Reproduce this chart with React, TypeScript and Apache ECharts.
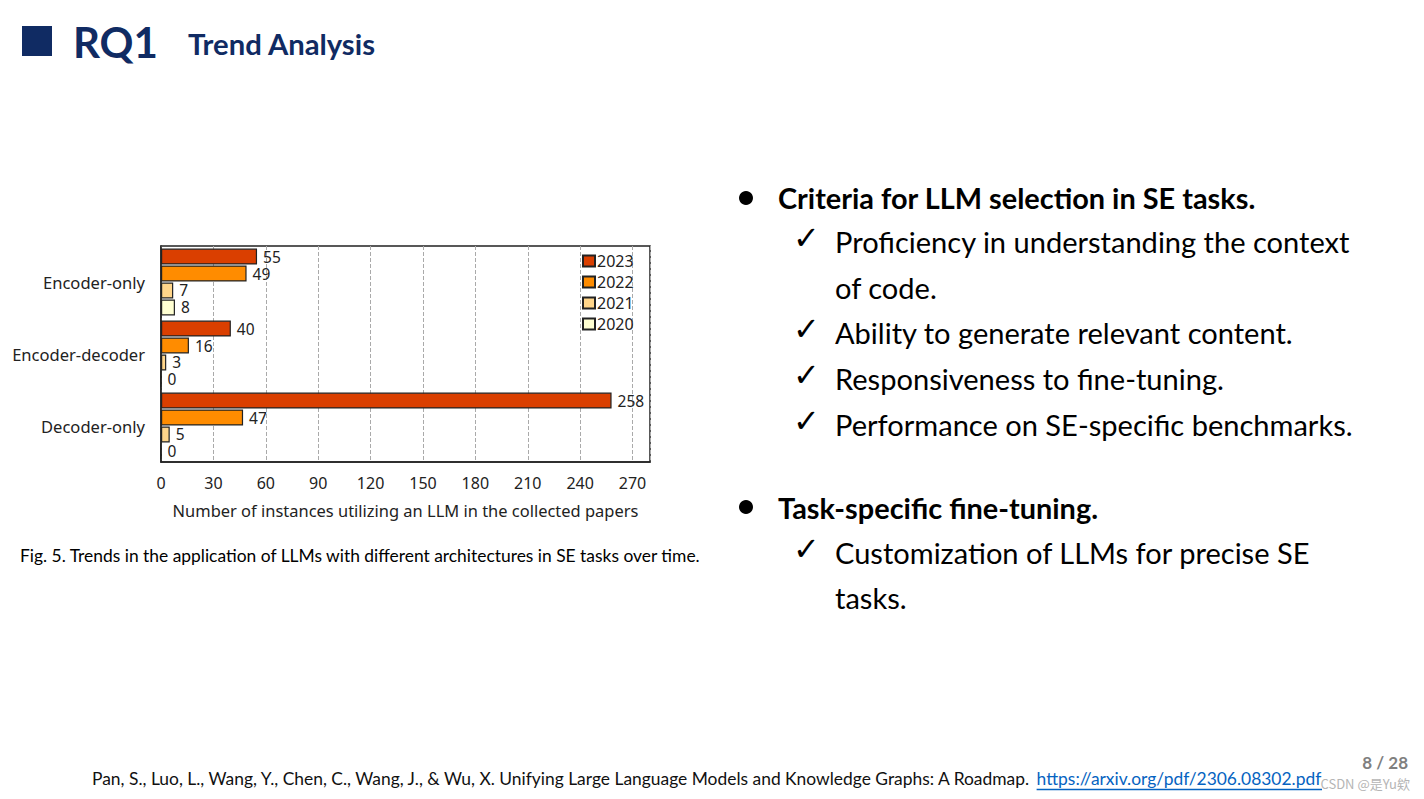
import React, { useEffect, useRef } from 'react';
import * as echarts from 'echarts';

// ---- data ----
const categories = ['Encoder-only', 'Encoder-decoder', 'Decoder-only'];
const years = ['2023', '2022', '2021', '2020'];
const values2023 = [55, 40, 258];
const values2022 = [49, 16, 47];
const values2021 = [7, 3, 5];
const values2020 = [8, 0, 0];
const seriesValues = [values2023, values2022, values2021, values2020];
const yearColors = ['#DA3F00', '#FF8C00', '#FFD58A', '#FFFFD2'];
const xTickStep = 30;
const xMax = 280;

const slideTitle = 'RQ1';
const slideSubtitle = 'Trend Analysis';
const figCaption = 'Fig. 5. Trends in the application of LLMs with different architectures in SE tasks over time.';
const xAxisName = 'Number of instances utilizing an LLM in the collected papers';
const bullet1 = 'Criteria for LLM selection in SE tasks.';
const bullet1Lines = [
  { text: 'Proficiency in understanding the context', check: true },
  { text: 'of code.', check: false },
  { text: 'Ability to generate relevant content.', check: true },
  { text: 'Responsiveness to fine-tuning.', check: true },
  { text: 'Performance on SE-specific benchmarks.', check: true },
];
const bullet2 = 'Task-specific fine-tuning.';
const bullet2Lines = [
  { text: 'Customization of LLMs for precise SE', check: true },
  { text: 'tasks.', check: false },
];
const citePrefix = 'Pan, S., Luo, L., Wang, Y., Chen, C., Wang, J., & Wu, X. Unifying Large Language Models and Knowledge Graphs: A Roadmap. ';
const citeLink = 'https://arxiv.org/pdf/2306.08302.pdf';
const pageNo = '8 / 28';
const watermark = 'CSDN @是Yu欸';

const SLIDE_FONT = 'Lato';
const CHART_FONT = 'Noto Sans';

function measure(text: string, family: string, weight: string, size: number): number {
  const c = document.createElement('canvas').getContext('2d');
  if (!c) return text.length * size * 0.5;
  c.font = `${weight} ${size}px "${family}"`;
  return c.measureText(text).width;
}
function fit(text: string, family: string, weight: string, target: number, fallback: number): number {
  const w = measure(text, family, weight, 100);
  return w > 0 ? (100 * target) / w : fallback;
}

export default function App() {
  const ref = useRef<HTMLDivElement>(null);
  useEffect(() => {
    if (!ref.current) return;
    const chart = echarts.init(ref.current, undefined, { renderer: 'svg' });

    const titleSize = fit(slideTitle, SLIDE_FONT, 'bold', 85, 42);
    const subSize = fit(slideSubtitle, SLIDE_FONT, 'bold', 188, 28);
    const capSize = fit(figCaption, SLIDE_FONT, 'normal', 682, 15);
    const boldSize = fit(bullet1, SLIDE_FONT, 'bold', 478, 27);
    const bodySize = fit('Performance on SE-specific benchmarks.', SLIDE_FONT, 'normal', 518, 27);
    const citeSize = fit(citePrefix + citeLink, SLIDE_FONT, 'normal', 1230, 17);
    const linkX = 92 + measure(citePrefix, SLIDE_FONT, 'normal', citeSize);
    const yLabelSize = fit('Encoder-decoder', CHART_FONT, 'normal', 133, 16);
    const nameSize = fit(xAxisName, CHART_FONT, 'normal', 466, 16);

    const txt = (text: string, x: number, y: number, size: number, opts: any = {}) => ({
      type: 'text',
      x,
      y,
      style: {
        text,
        fontSize: size,
        fontFamily: opts.family || SLIDE_FONT,
        fontWeight: opts.weight || 'normal',
        fill: opts.fill || '#000',
        align: opts.align || 'left',
        verticalAlign: 'middle',
      },
    });

    const graphics: any[] = [
      { type: 'rect', shape: { x: 22, y: 26, width: 30, height: 30 }, style: { fill: '#102B63' } },
      txt(slideTitle, 73, 41, titleSize, { weight: 'bold', fill: '#102B63' }),
      txt(slideSubtitle, 188, 43, subSize, { weight: 'bold', fill: '#102B63' }),
      txt(figCaption, 20, 555, capSize),
      { type: 'circle', shape: { cx: 746, cy: 198, r: 7 }, style: { fill: '#000' } },
      txt(bullet1, 778, 197, boldSize, { weight: 'bold' }),
      { type: 'circle', shape: { cx: 746, cy: 507, r: 7 }, style: { fill: '#000' } },
      txt(bullet2, 778, 507, boldSize, { weight: 'bold' }),
    ];
    const checkSize = 32;
    const linesY1 = [241, 287, 332, 378, 424];
    bullet1Lines.forEach((l, i) => {
      if (l.check) graphics.push(txt('✓', 793, linesY1[i] - 3, checkSize, { family: 'DejaVu Sans' }));
      graphics.push(txt(l.text, 835, linesY1[i], bodySize));
    });
    const linesY2 = [552, 597];
    bullet2Lines.forEach((l, i) => {
      if (l.check) graphics.push(txt('✓', 793, linesY2[i] - 3, checkSize, { family: 'DejaVu Sans' }));
      graphics.push(txt(l.text, 835, linesY2[i], bodySize));
    });
    graphics.push(txt(citePrefix, 92, 778, citeSize, { fill: '#111' }));
    graphics.push(txt(citeLink, linkX, 778, citeSize, { fill: '#0563C1' }));
    graphics.push({
      type: 'line',
      shape: { x1: linkX, y1: 789.5, x2: 1322, y2: 789.5 },
      style: { stroke: '#0563C1', lineWidth: 1.5 },
    });
    graphics.push(txt(pageNo, 1408, 762, 17, { weight: 'bold', fill: '#7F7F7F', align: 'right' }));
    graphics.push(txt(watermark, 1410, 783, 13, { family: 'Noto Sans CJK SC', fill: '#B5B5B5', align: 'right' }));

    chart.setOption({
      animation: false,
      backgroundColor: '#fff',
      textStyle: { fontFamily: CHART_FONT },
      grid: {
        left: 161,
        top: 246,
        right: 1424 - 650,
        bottom: 799 - 462,
        show: true,
        borderColor: '#222',
        borderWidth: 1.5,
        backgroundColor: 'transparent',
      },
      legend: {
        data: years,
        orient: 'vertical',
        left: 582,
        top: 253,
        padding: 0,
        itemWidth: 12,
        itemHeight: 11,
        itemGap: 5,
        icon: 'rect',
        textStyle: { fontSize: 16, lineHeight: 16, fontFamily: CHART_FONT, color: '#222', padding: [0, 0, 0, -3] },
      },
      xAxis: {
        type: 'value',
        min: 0,
        max: xMax,
        interval: xTickStep,
        name: xAxisName,
        nameLocation: 'middle',
        nameGap: 40,
        nameTextStyle: { fontSize: nameSize, fontFamily: CHART_FONT, color: '#222' },
        axisLine: { show: true, lineStyle: { color: '#222', width: 1.5 } },
        axisTick: { show: false },
        axisLabel: {
          fontSize: 16,
          color: '#222',
          margin: 13,
          formatter: (v: number) => (v > 270 ? '' : String(v)),
        },
        splitLine: { show: true, lineStyle: { type: 'dashed', color: '#aaa', width: 1 } },
      },
      yAxis: {
        type: 'category',
        data: categories,
        inverse: true,
        axisLine: { show: true, lineStyle: { color: '#222', width: 1.5 } },
        axisTick: { show: false },
        axisLabel: { fontSize: yLabelSize, color: '#222', margin: 16 },
      },
      series: years.map((y, i) => ({
        name: y,
        type: 'bar',
        data: seriesValues[i],
        barWidth: 16,
        barGap: '6%',
        itemStyle: { color: yearColors[i], borderColor: '#222', borderWidth: 1.2 },
        label: {
          show: true,
          position: 'right',
          distance: 6,
          fontSize: 15.5,
          lineHeight: 14,
          color: '#222',
        },
      })),
      graphic: graphics,
    });
    return () => chart.dispose();
  }, []);
  return (
    <div
      ref={ref}
      style={{ position: 'absolute', left: 0, top: 0, width: 1424, height: 799, background: '#fff' }}
    />
  );
}
